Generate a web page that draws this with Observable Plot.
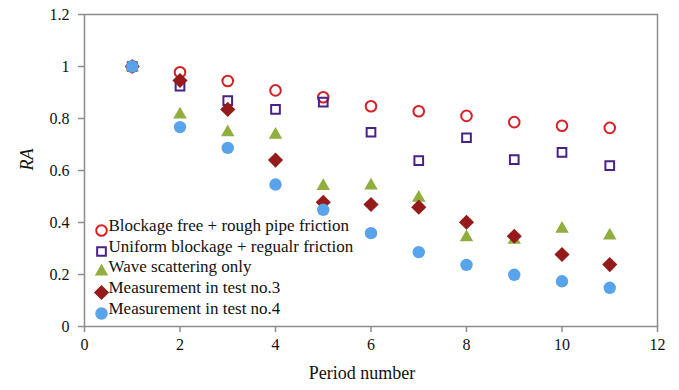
<!DOCTYPE html>
<html><head><meta charset="utf-8">
<script src="https://cdn.jsdelivr.net/npm/d3@7"></script>
<script src="https://cdn.jsdelivr.net/npm/@observablehq/plot@0.6"></script>
<style>
body{margin:0;background:#fff;font-family:"Liberation Serif",serif}
</style>
</head><body><div id="chart"></div>
<script>
const periods = [1,2,3,4,5,6,7,8,9,10,11];
const blockageFree = [1.0,0.978,0.944,0.908,0.882,0.847,0.828,0.81,0.786,0.772,0.764];
const uniformBlockage = [1.0,0.924,0.869,0.835,0.863,0.747,0.638,0.726,0.642,0.67,0.619];
const waveScattering = [0.997,0.815,0.747,0.737,0.54,0.542,0.495,0.343,0.333,0.376,0.35];
const test3 = [1.0,0.946,0.835,0.64,0.478,0.469,0.459,0.401,0.347,0.277,0.238];
const test4 = [1.0,0.767,0.687,0.546,0.449,0.359,0.286,0.237,0.199,0.174,0.149];
const seriesNames = ["Blockage free + rough pipe friction","Uniform blockage + regualr friction","Wave scattering only","Measurement in test no.3","Measurement in test no.4"];
const xTicks = [0,2,4,6,8,10,12];
const yTicks = [0,0.2,0.4,0.6,0.8,1,1.2];

const seriesValues = [blockageFree, uniformBlockage, waveScattering, test3, test4];
const styles = [
  {symbol:"circle", r:5.3, fill:"none", stroke:"#d91f26", strokeWidth:2},
  {symbol:"square", r:4.9, fill:"none", stroke:"#4a2189", strokeWidth:2},
  {symbol:"triangle", r:5.0, fill:"#8fae3d", stroke:"none"},
  {symbol:"diamond2", r:6.8, fill:"#951b1b", stroke:"none"},
  {symbol:"circle", r:6.2, fill:"#58a4ea", stroke:"none"}
];
const rows = seriesNames.map((name,i)=>({name, i}));
const data = seriesValues.map((vals,i)=>periods.map((p,j)=>({p, v: vals[j], s: i})));

const legendDy = [-96,-75,-55,-34,-13];
const serif = "Liberation Serif";

const marks = [Plot.frame({stroke:"#8c8c8c", strokeWidth:1.5})];
data.forEach((d,i)=>{
  marks.push(Plot.dot(d, {x:"p", y:"v", ...styles[i]}));
});
rows.forEach((row,i)=>{
  marks.push(Plot.dot([row], {frameAnchor:"bottom-left", dx:17, dy:legendDy[i], ...styles[i]}));
  marks.push(Plot.text([row], {frameAnchor:"bottom-left", dx:24, dy:legendDy[i], text:"name", textAnchor:"start", fontSize:17, fontFamily:serif, fill:"#111"}));
});
marks.push(Plot.text(["RA"], {frameAnchor:"left", dx:-57, rotate:-90, fontStyle:"italic", fontSize:18, fontFamily:serif, fill:"#111"}));
marks.push(Plot.text(["Period number"], {frameAnchor:"bottom", dx:-9, dy:52, fontSize:18, fontFamily:serif, fill:"#111"}));

const chart = Plot.plot({
  width:679, height:390,
  marginLeft:84, marginRight:22, marginTop:14, marginBottom:64,
  style:{fontFamily:serif, fontSize:"16px", color:"#111", background:"#fff"},
  x:{domain:[0,12], ticks:xTicks, tickSize:6, tickPadding:6, label:null},
  y:{domain:[0,1.2], ticks:yTicks, tickSize:6, tickPadding:9, label:null, tickFormat:d=>String(+d.toFixed(1))},
  marks
});
document.getElementById("chart").appendChild(chart);
d3.select(chart).selectAll("text").attr("font-family", serif).style("font-family", serif);
d3.select(chart).selectAll("g[aria-label*='axis'] line, g[aria-label*='axis'] path, g[aria-label*='tick'] path, g[aria-label*='tick'] line").attr("stroke","#8c8c8c").attr("stroke-width",1.5);
</script>
</body></html>
